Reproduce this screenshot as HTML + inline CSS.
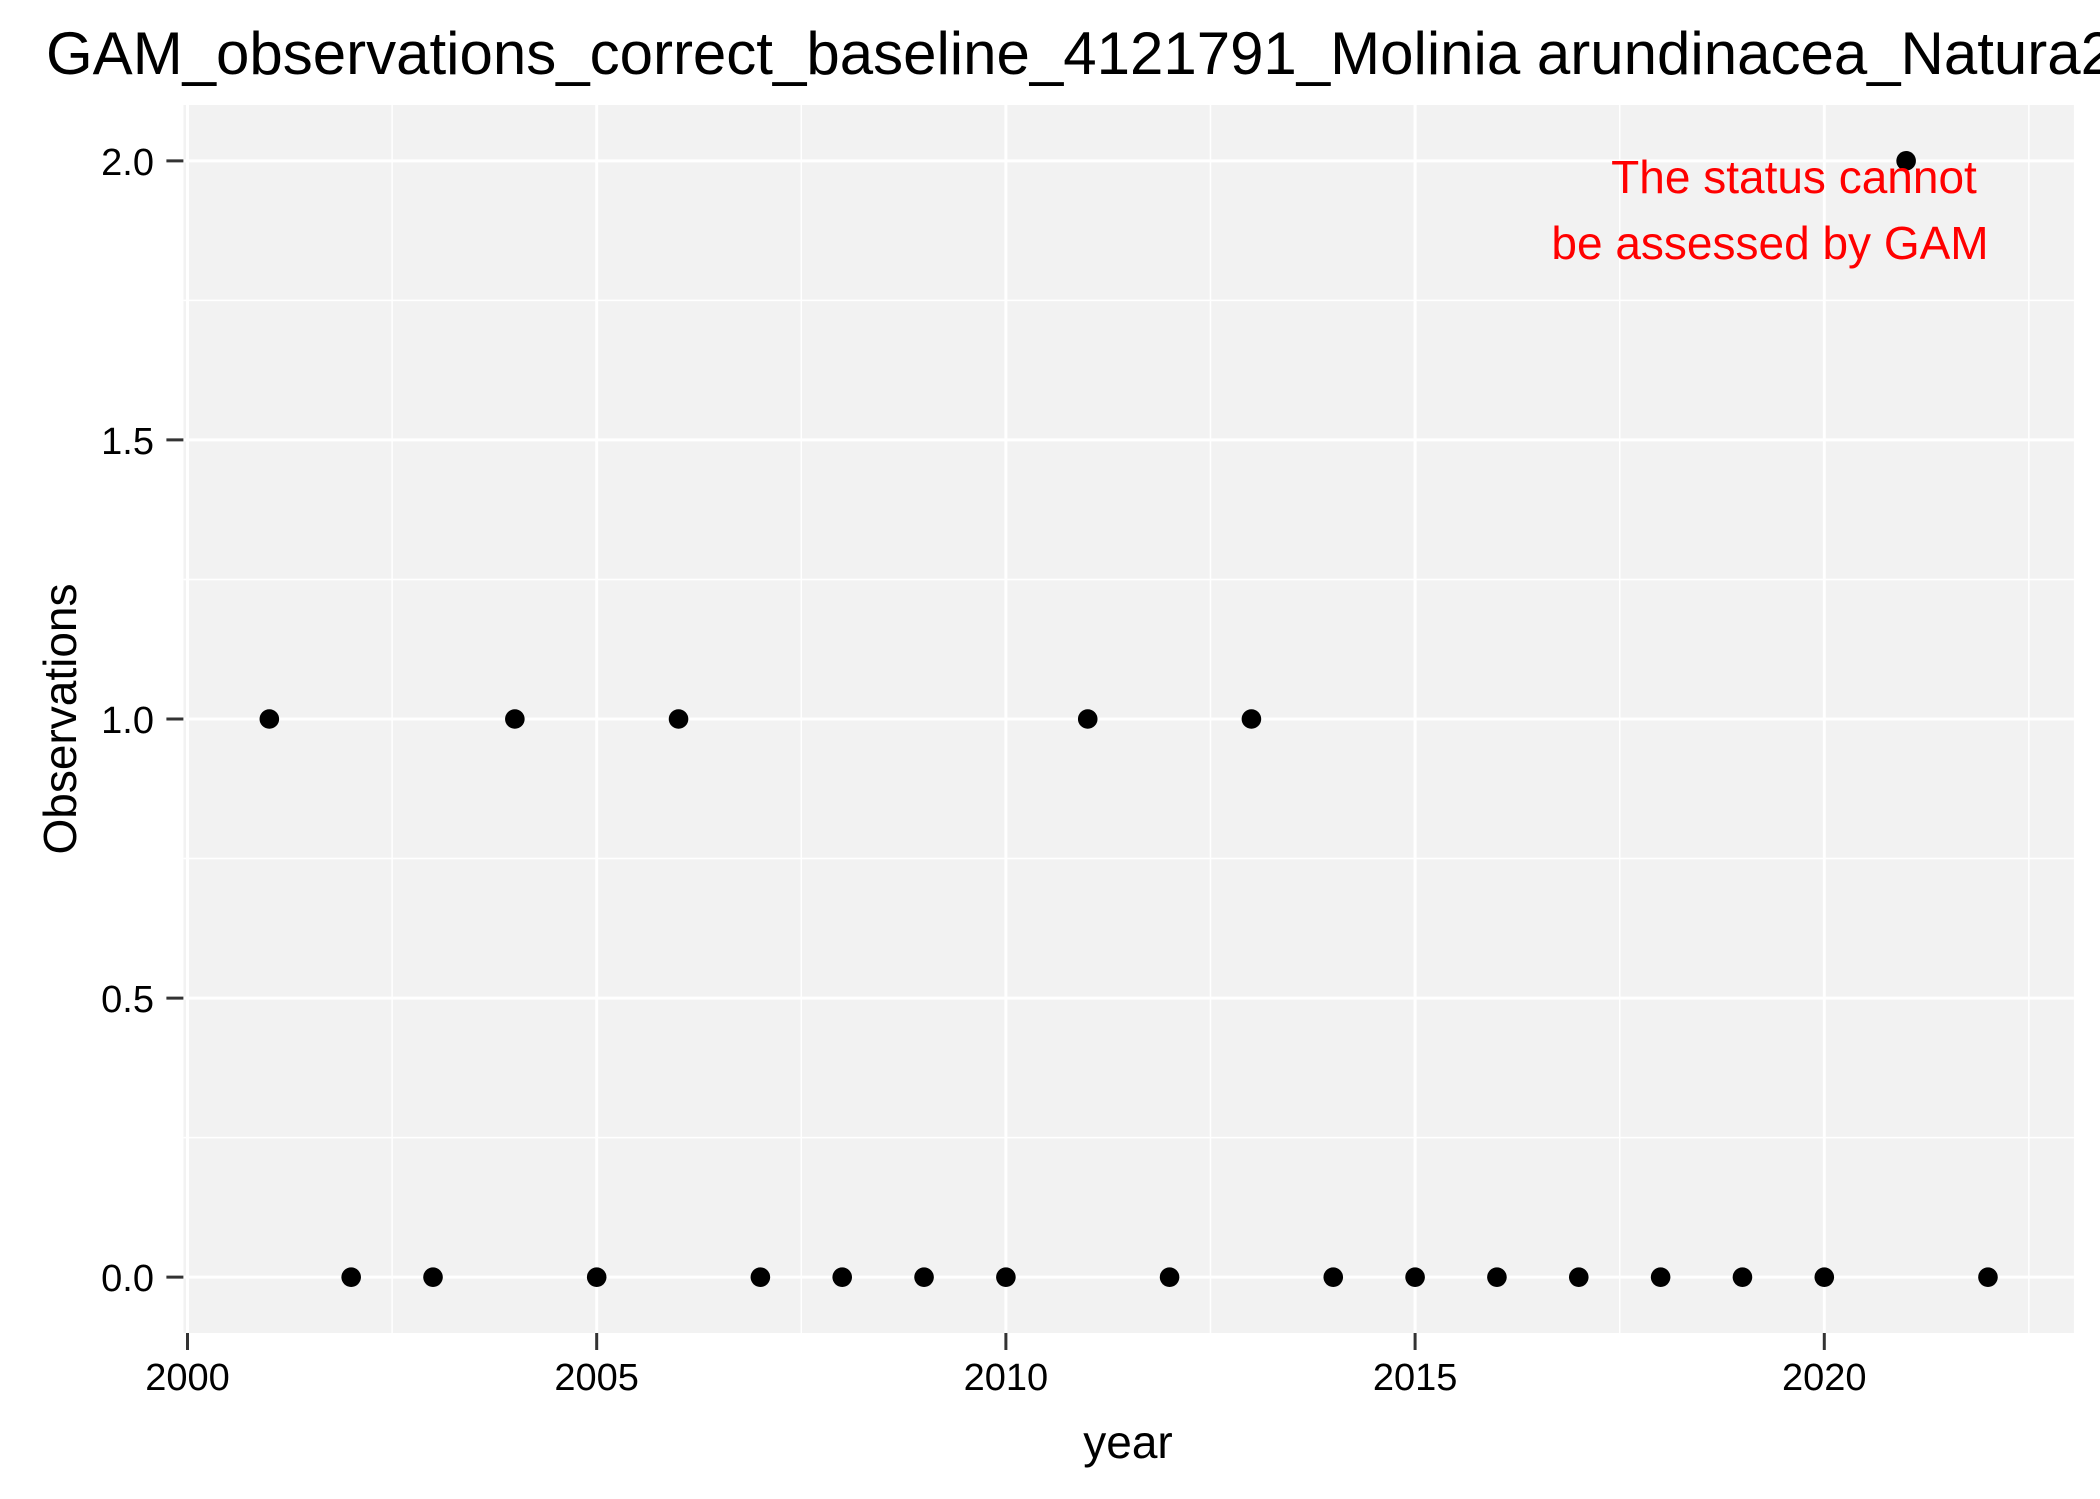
<!DOCTYPE html>
<html><head><meta charset="utf-8">
<style>
html,body{margin:0;padding:0;background:#fff;}
svg{display:block;font-family:"Liberation Sans",Arial,sans-serif;}
</style></head>
<body>
<svg id="chart" width="2100" height="1499" viewBox="0 0 2100 1499" xmlns="http://www.w3.org/2000/svg">
<rect x="0" y="0" width="2100" height="1499" fill="#fff"/>
<text x="46" y="74" font-size="60" fill="#000">GAM_observations_correct_baseline_4121791_Molinia arundinacea_Natura2000</text>
<rect x="183.4" y="105" width="1890.5" height="1228" fill="#f2f2f2"/>
<g id="grid"></g>
<g id="points"></g>
<g id="axes"></g>
<text x="1794" y="193" font-size="46" fill="#ff0000" text-anchor="middle">The status cannot</text>
<text x="1770" y="259" font-size="46" fill="#ff0000" text-anchor="middle">be assessed by GAM</text>
<text x="1128" y="1458" font-size="46" fill="#000" text-anchor="middle">year</text>
<text x="0" y="0" font-size="46" fill="#000" text-anchor="middle" transform="translate(76,719) rotate(-90)">Observations</text>
</svg>
<script>
const years = [2001,2002,2003,2004,2005,2006,2007,2008,2009,2010,2011,2012,2013,2014,2015,2016,2017,2018,2019,2020,2021,2022];
const observations = [1,0,0,1,0,1,0,0,0,0,1,0,1,0,0,0,0,0,0,0,2,0];
const xTicks = [2000,2005,2010,2015,2020];
const xMinor = [2002.5,2007.5,2012.5,2017.5,2022.5];
const yTicks = [0,0.5,1,1.5,2];
const yTickLabels = ["0.0","0.5","1.0","1.5","2.0"];
const yMinor = [0.25,0.75,1.25,1.75];

const NS = "http://www.w3.org/2000/svg";
const PL = 183.4, PR = 2073.9, PT = 105, PB = 1333;
const xMin = 1999.95, xMax = 2023.05, yMin = -0.1, yMax = 2.1;
function xs(v){ return PL + (v - xMin) / (xMax - xMin) * (PR - PL); }
function ys(v){ return PB - (v - yMin) / (yMax - yMin) * (PB - PT); }
function mk(tag, attrs, parent){
  const e = document.createElementNS(NS, tag);
  for (const k in attrs) e.setAttribute(k, attrs[k]);
  parent.appendChild(e);
  return e;
}
const grid = document.getElementById('grid');
const pts = document.getElementById('points');
const axes = document.getElementById('axes');

xMinor.forEach(v => {
  const l = mk('line', {x1: xs(v), x2: xs(v), y1: PT, y2: PB, stroke: '#fff', 'stroke-width': 1.5}, grid);
  
  
});
yMinor.forEach(v => {
  const l = mk('line', {x1: PL, x2: PR, y1: ys(v), y2: ys(v), stroke: '#fff', 'stroke-width': 1.5}, grid);
  
  
});
xTicks.forEach(v => {
  const l = mk('line', {x1: xs(v), x2: xs(v), y1: PT, y2: PB, stroke: '#fff', 'stroke-width': 3}, grid);
  
  
  const t = mk('line', {x1: xs(v), x2: xs(v), y1: PB, y2: PB + 17, stroke: '#333', 'stroke-width': 3}, axes);
  
  
  const tx = mk('text', {x: xs(v), y: 1390, 'font-size': 38, fill: '#000', 'text-anchor': 'middle'}, axes);
  tx.textContent = v;
  
  
});
yTicks.forEach((v, i) => {
  const l = mk('line', {x1: PL, x2: PR, y1: ys(v), y2: ys(v), stroke: '#fff', 'stroke-width': 3}, grid);
  
  
  const t = mk('line', {x1: PL - 17, x2: PL, y1: ys(v), y2: ys(v), stroke: '#333', 'stroke-width': 3}, axes);
  
  
  const tx = mk('text', {x: 154, y: ys(v) + 14, 'font-size': 38, fill: '#000', 'text-anchor': 'end'}, axes);
  tx.textContent = yTickLabels[i];
  
  
});
years.forEach((yr, i) => {
  const c = mk('circle', {cx: xs(yr), cy: ys(observations[i]), r: 9.8, fill: '#000'}, pts);
  
  
});
</script>
</body></html>
